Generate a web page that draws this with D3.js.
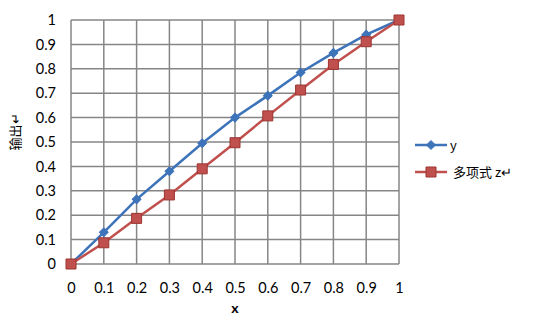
<!DOCTYPE html>
<html>
<head>
<meta charset="utf-8">
<script src="https://cdn.jsdelivr.net/npm/d3@7"></script>
<style>
  body { margin: 0; background: #fff; }
  text { font-family: Lato, "Noto Sans CJK SC", sans-serif; fill: #000; }
</style>
</head>
<body>
<div id="chart"></div>
<script>
// Chart data
const xValues = [0, 0.1, 0.2, 0.3, 0.4, 0.5, 0.6, 0.7, 0.8, 0.9, 1];
const yValues = [0, 0.13, 0.265, 0.38, 0.495, 0.6, 0.69, 0.785, 0.865, 0.94, 1];
const zValues = [0, 0.087, 0.187, 0.283, 0.39, 0.497, 0.607, 0.713, 0.818, 0.911, 1];
const tickValues = [0, 0.1, 0.2, 0.3, 0.4, 0.5, 0.6, 0.7, 0.8, 0.9, 1];
const seriesNames = ["y", "多项式 z↵"];
const xTitle = "x";
const yTitle = "输出↵";

const W = 534, H = 320;
const margin = { top: 20, right: 135, bottom: 56, left: 71 };
const width = W - margin.left - margin.right;
const height = H - margin.top - margin.bottom;

const svg = d3.select("#chart").append("svg")
  .attr("width", W)
  .attr("height", H);

const g = svg.append("g")
  .attr("transform", `translate(${margin.left},${margin.top})`);

const x = d3.scaleLinear().domain([0, 1]).range([0, width]);
const y = d3.scaleLinear().domain([0, 1]).range([height, 0]);

// Grid lines
g.append("g").selectAll("line")
  .data(tickValues)
  .join("line")
  .attr("x1", d => x(d)).attr("x2", d => x(d))
  .attr("y1", 0).attr("y2", height)
  .attr("stroke", "#868686").attr("stroke-width", 1.5);

g.append("g").selectAll("line")
  .data(tickValues)
  .join("line")
  .attr("x1", 0).attr("x2", width)
  .attr("y1", d => y(d)).attr("y2", d => y(d))
  .attr("stroke", "#868686").attr("stroke-width", 1.5);

// Axes (labels only)
const xAxis = g.append("g")
  .attr("transform", `translate(0,${height})`)
  .call(d3.axisBottom(x).tickValues(tickValues).tickFormat(d3.format("")).tickSize(0).tickPadding(19));
xAxis.select(".domain").remove();
xAxis.selectAll("text").style("font-size", "14.5px").style("font-family", "Lato");

const yAxis = g.append("g")
  .call(d3.axisLeft(y).tickValues(tickValues).tickFormat(d3.format("")).tickSize(0).tickPadding(15));
yAxis.select(".domain").remove();
yAxis.selectAll("text").style("font-size", "14.5px").style("font-family", "Lato");

// Axis titles
svg.append("text")
  .attr("x", margin.left + width / 2)
  .attr("y", 313)
  .attr("text-anchor", "middle")
  .style("font-size", "14px")
  .style("font-weight", "bold")
  .text(xTitle);

svg.append("text")
  .attr("transform", "translate(20,132) rotate(-90)")
  .attr("text-anchor", "middle")
  .style("font-size", "13px")
  .text(yTitle);

// Series (blue marker is a square turned 45 degrees)
const series = [
  { name: seriesNames[0], values: yValues, color: "#3d73b9", marker: d3.symbolSquare, size: 38, rotate: 45, stroke: "#3d73b9" },
  { name: seriesNames[1], values: zValues, color: "#c0504d", marker: d3.symbolSquare, size: 100, rotate: 0, stroke: "#9b3431" }
];

const line = d3.line()
  .x((d, i) => x(xValues[i]))
  .y(d => y(d));

series.forEach(s => {
  g.append("path")
    .datum(s.values)
    .attr("fill", "none")
    .attr("stroke", s.color)
    .attr("stroke-width", 2.5)
    .attr("d", line);

  g.append("g").selectAll("path")
    .data(s.values)
    .join("path")
    .attr("transform", (d, i) => `translate(${x(xValues[i])},${y(d)}) rotate(${s.rotate})`)
    .attr("d", d3.symbol().type(s.marker).size(s.size))
    .attr("fill", s.color)
    .attr("stroke", s.stroke)
    .attr("stroke-width", 1);
});

// Legend
const legend = svg.append("g").attr("transform", "translate(415,145)");
series.forEach((s, i) => {
  const row = legend.append("g").attr("transform", `translate(0,${i * 27})`);
  row.append("line")
    .attr("x1", 0).attr("x2", 32)
    .attr("stroke", s.color).attr("stroke-width", 2.5);
  row.append("path")
    .attr("transform", `translate(16,0) rotate(${s.rotate})`)
    .attr("d", d3.symbol().type(s.marker).size(s.size))
    .attr("fill", s.color)
    .attr("stroke", s.stroke);
  row.append("text")
    .attr("x", i === 0 ? 35 : 38)
    .attr("y", 5)
    .style("font-size", "13px")
    .style("font-family", "'Noto Sans CJK SC', sans-serif")
    .text(s.name);
});
</script>
</body>
</html>
